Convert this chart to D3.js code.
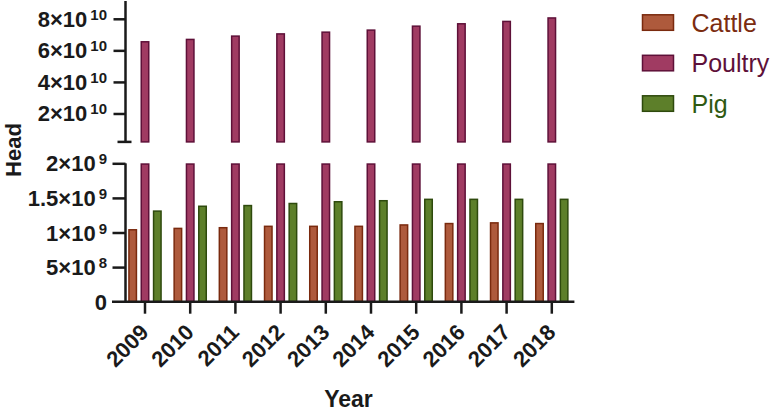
<!DOCTYPE html>
<html>
<head>
<meta charset="utf-8">
<script src="https://cdn.jsdelivr.net/npm/d3@7"></script>
<style>
  html, body { margin: 0; padding: 0; background: #fff; }
  svg { display: block; font-family: "Liberation Sans", Arial, sans-serif; }
</style>
</head>
<body>
<svg id="chart" width="772" height="412"></svg>
<script>
// ---- data ----
const years = ["2009", "2010", "2011", "2012", "2013", "2014", "2015", "2016", "2017", "2018"];
const seriesNames = ["Cattle", "Poultry", "Pig"];
const cattle  = [1.05e9, 1.07e9, 1.08e9, 1.10e9, 1.10e9, 1.10e9, 1.12e9, 1.14e9, 1.15e9, 1.14e9];
const poultry = [6.59e10, 6.74e10, 6.95e10, 7.09e10, 7.20e10, 7.33e10, 7.58e10, 7.73e10, 7.88e10, 8.10e10];
const pig     = [1.32e9, 1.39e9, 1.40e9, 1.43e9, 1.455e9, 1.47e9, 1.49e9, 1.49e9, 1.49e9, 1.49e9];
const topTicks = [2e10, 4e10, 6e10, 8e10];
const bottomTicks = [0, 5e8, 1e9, 1.5e9, 2e9];
const breakValue = 2e9;

const fills   = {Cattle: "#ae5a3c", Poultry: "#a03b62", Pig: "#5d7f2a"};
const strokes = {Cattle: "#7a2a0e", Poultry: "#5e1038", Pig: "#2e4a0d"};
const textCol = {Cattle: "#7b2c10", Poultry: "#5e1039", Pig: "#2f5a12"};

const rows = years.map((y, i) => ({year: y, Cattle: cattle[i], Poultry: poultry[i], Pig: pig[i]}));

const svg = d3.select("#chart");
const axisX = 125.5;
const axisColor = "#1a1a1a";

const x = d3.scaleBand().domain(years).range([122.4, 574.4]).padding(0);
const xs = d3.scaleBand().domain(seriesNames).range([0, x.bandwidth()]).paddingInner(0.27).paddingOuter(0.47);

const yTop = d3.scaleLinear().domain([breakValue, 9e10]).range([141.9, 3]).clamp(true);
const yBot = d3.scaleLinear().domain([0, breakValue]).range([301.7, 163.3]).clamp(true);

// ---- bars ----
const sw = 1.5;
function drawBars(scale, lo) {
  const g = svg.append("g");
  rows.forEach(r => {
    seriesNames.forEach(s => {
      const v = r[s];
      if (v <= lo) return;
      const y0 = scale(lo), y1 = scale(v);
      g.append("rect")
        .attr("x", x(r.year) + xs(s) + sw / 2)
        .attr("width", xs.bandwidth() - sw)
        .attr("y", y1 + sw / 2)
        .attr("height", Math.max(0, y0 - y1 - sw / 2))
        .attr("fill", fills[s])
        .attr("stroke", strokes[s])
        .attr("stroke-width", sw);
    });
  });
}
drawBars(yBot, 0);
drawBars(yTop, breakValue);

// ---- tick label helper ----
function splitNum(v) {
  if (v === 0) return {m: "0", e: null};
  const e = Math.floor(Math.log10(v));
  const m = +(v / Math.pow(10, e)).toFixed(2);
  return {m: String(m) + "×10", e: String(e)};
}
function addLabels(g, scale, ticks) {
  ticks.forEach(t => {
    const p = splitNum(t);
    const y = scale(t);
    const tx = g.append("text").attr("x", 107 - axisX).attr("y", y + 8)
      .attr("text-anchor", "end").attr("font-size", 22).attr("font-weight", "bold")
      .attr("fill", axisColor);
    tx.append("tspan").text(p.m);
    if (p.e !== null) {
      tx.append("tspan").attr("dx", 3).attr("dy", -7).attr("font-size", 15).text(p.e);
    }
  });
}

// ---- top y axis ----
const gTop = svg.append("g").attr("transform", `translate(${axisX},0)`);
gTop.call(d3.axisLeft(yTop).tickValues(topTicks).tickSize(12).tickSizeOuter(0).tickFormat(""));
gTop.select(".domain").remove();
gTop.append("line").attr("x1", 0).attr("x2", 0).attr("y1", 1).attr("y2", yTop(breakValue))
  .attr("stroke", axisColor).attr("stroke-width", 2.5);
gTop.append("line").attr("x1", -8).attr("x2", 6).attr("y1", yTop(breakValue)).attr("y2", yTop(breakValue))
  .attr("stroke", axisColor).attr("stroke-width", 2.5);
gTop.selectAll(".tick line").attr("stroke", axisColor).attr("stroke-width", 2.5);
addLabels(gTop, yTop, topTicks);

// ---- bottom y axis ----
const gBot = svg.append("g").attr("transform", `translate(${axisX},0)`);
gBot.call(d3.axisLeft(yBot).tickValues(bottomTicks.filter(t => t > 0)).tickSize(13).tickSizeOuter(0).tickFormat(""));
gBot.select(".domain").remove();
gBot.append("line").attr("x1", 0).attr("x2", 0).attr("y1", yBot(breakValue)).attr("y2", yBot(0))
  .attr("stroke", axisColor).attr("stroke-width", 2.5);
gBot.selectAll(".tick line").attr("stroke", axisColor).attr("stroke-width", 2.5);
addLabels(gBot, yBot, bottomTicks);

// ---- x axis ----
const gX = svg.append("g").attr("transform", `translate(0,${yBot(0)})`);
gX.call(d3.axisBottom(x).tickSize(12).tickSizeOuter(0).tickFormat(""));
gX.select(".domain").remove();
gX.append("line").attr("x1", 112).attr("x2", x.range()[1]).attr("y1", 0).attr("y2", 0)
  .attr("stroke", axisColor).attr("stroke-width", 2.5);
gX.selectAll(".tick line").attr("stroke", axisColor).attr("stroke-width", 2.5);
gX.selectAll(".tick").append("text")
  .attr("transform", "translate(5,32) rotate(-45)")
  .attr("text-anchor", "end")
  .attr("font-size", 22).attr("font-weight", "bold")
  .attr("fill", axisColor)
  .text(d => d);

// ---- axis titles ----
svg.append("text").attr("transform", "translate(21,150) rotate(-90)")
  .attr("text-anchor", "middle").attr("font-size", 22).attr("font-weight", "bold")
  .attr("fill", axisColor).text("Head");
svg.append("text").attr("x", 348.5).attr("y", 407)
  .attr("text-anchor", "middle").attr("font-size", 23).attr("font-weight", "bold")
  .attr("fill", axisColor).text("Year");

// ---- legend ----
const legend = svg.append("g");
seriesNames.forEach((s, i) => {
  const cy = 22.5 + i * 40.5;
  legend.append("rect").attr("x", 642.5).attr("y", cy - 7.7).attr("width", 31).attr("height", 15.5)
    .attr("fill", fills[s]).attr("stroke", strokes[s]).attr("stroke-width", 1.5);
  legend.append("text").attr("x", 691.5).attr("y", cy + 9)
    .attr("font-size", 25).attr("fill", textCol[s]).text(s);
});
</script>
</body>
</html>
